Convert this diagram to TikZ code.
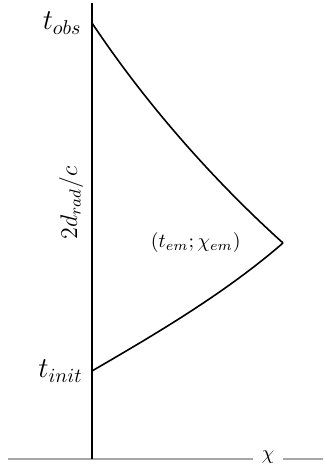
\documentclass[tikz,border=0pt]{standalone}
\usepackage{amsmath}
\usetikzlibrary{positioning}
\tikzset{
	axisline/.style={line width=1pt, black},%
	groundline/.style={line width=1pt, black!35},%
	rayline/.style={line width=0.8pt, black},%
	lbl/.style={inner sep=0pt},%
}
\begin{document}
\begin{tikzpicture}[x=0.5pt, y=-0.5pt]%
	\useasboundingbox (0,0) rectangle (323,474);

	\coordinate (top) at (92,3);
	\coordinate (bot) at (92,459);
	\coordinate (left) at (8,459);
	\coordinate (right) at (323,459);
	\coordinate (obs) at (92,23);
	\coordinate (init) at (92,371);
	\coordinate (em) at (283,243);

	\node[lbl, font=\Large] (tobs) [left=5pt of obs] {$t_{obs}$};
	\node[lbl, font=\Large] (tinit) [left=4.5pt of init] {$t_{init}$};
	\node[lbl] (temlbl) [left=21pt of em] {$(t_{em};\chi_{em})$};
	\node[lbl, font=\large, rotate=90] (drad) at (71,203) {$2d_{rad}/c$};
	\node[anchor=base, inner xsep=4pt] (chi) at (268,459) {$\chi$};

	\draw[groundline] (left) -- (chi.base west);
	\draw[groundline] (chi.base east) -- (right);
	\draw[axisline] (top) -- (bot);

	\draw[rayline] (obs) .. controls (152,113) and (223,189) .. (em);
	\draw[rayline] (init) .. controls (152,336) and (223,295) .. (em);
\end{tikzpicture}
\end{document}
